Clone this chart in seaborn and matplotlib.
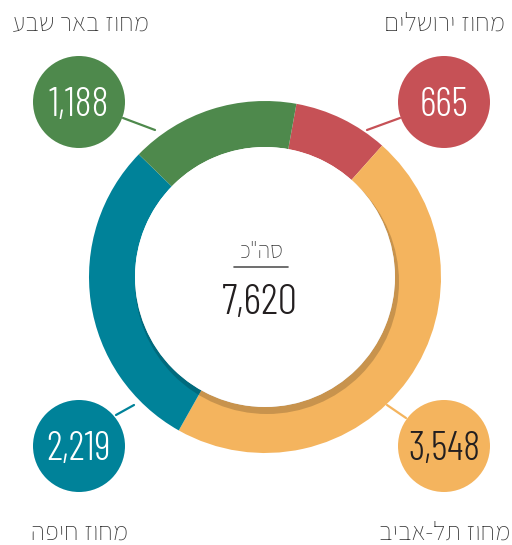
import numpy as np
import seaborn as sns
import matplotlib.pyplot as plt
from matplotlib.patches import Circle

# נתונים לפי מחוז
regions = ['מחוז ירושלים', 'מחוז תל-אביב', 'מחוז חיפה', 'מחוז באר שבע']
counts = [665, 3548, 2219, 1188]
colors = ['#c65156', '#f4b45e', '#008299', '#4e894c']
num_colors = ['white', '#231f20', 'white', 'white']
total_label = 'סה"כ'

sns.set_style('white')
heb_font = ['Assistant', 'Noto Sans Hebrew', 'DejaVu Sans']
num_font = ['Barlow Condensed', 'DejaVu Sans']
plt.rcParams['font.family'] = heb_font


def rtl(s):
    # matplotlib לא הופך טקסט מימין לשמאל
    return s[::-1]


fig = plt.figure(figsize=(5.12, 5.45), dpi=100)
ax = fig.add_axes([0, 0, 1, 1])

cx, cy = 265, 268
r_out, ring = 176, 46
r_in = r_out - ring

ax.pie(counts, colors=colors, startangle=79.7, counterclock=False,
       center=(cx, cy), radius=r_out,
       wedgeprops=dict(width=ring, linewidth=0))

# צל פנימי
ax.add_patch(Circle((cx + 2, cy - 5), r_in + 2, color='black', alpha=0.18, lw=0, zorder=3))
ax.add_patch(Circle((cx, cy), r_in, color='white', lw=0, zorder=4))

# עיגולים קטנים, קווים ותוויות
bubbles = [(444, 443), (444, 99), (79, 99), (79, 443)]
lines = [((367, 400), (415, 427)), ((387, 406), (140, 127)),
         ((116, 134), (130, 140)), ((123, 155), (427, 415))]
name_pos = [(505, 515, 'right'), (510, 6, 'right'), (80, 6, 'center'), (80, 515, 'center')]

for i in range(len(counts)):
    bx, by = bubbles[i]
    ax.add_patch(Circle((bx, by), 46, color=colors[i], lw=0, zorder=5))
    ax.text(bx, by - 14, f'{counts[i]:,}', ha='center', va='baseline', fontsize=29,
            fontweight=300, color=num_colors[i], family=num_font, zorder=6)
    xs, ys = lines[i]
    ax.plot(xs, ys, color=colors[i], lw=1.6, zorder=4)
    nx, ny, ha = name_pos[i]
    ax.text(nx, ny, rtl(regions[i]), ha=ha, va='baseline', fontsize=19,
            fontweight=300, color='#3a3a3a', zorder=6)

# סכום כולל במרכז
ax.text(262, 287, rtl(total_label), ha='center', va='baseline', fontsize=17,
        fontweight=300, color='#3a3a3a', zorder=6)
ax.plot([234, 288], [278, 278], color='#555555', lw=1.2, zorder=6)
ax.text(260, 231, f'{sum(counts):,}', ha='center', va='baseline', fontsize=31,
        fontweight=300, color='#231f20', family=num_font, zorder=6)

ax.set_xlim(0, 512)
ax.set_ylim(0, 545)
ax.set_aspect('equal')
ax.axis('off')

fig.savefig('out.png', dpi=100, facecolor='white')
